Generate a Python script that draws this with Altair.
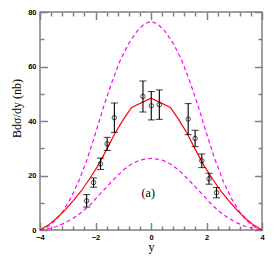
import altair as alt
import pandas as pd

# ---- data ----
upper_x = [-4, -3.8, -3.5, -3.2, -2.9, -2.6, -2.3, -2.0, -1.7, -1.4, -1.1, -0.8, -0.5, -0.25, 0,
           0.25, 0.5, 0.8, 1.1, 1.4, 1.7, 2.0, 2.3, 2.6, 2.9, 3.2, 3.5, 3.8, 4]
upper_y = [0, 0.6, 3, 6.5, 11.5, 18, 26, 35.5, 45.5, 54.5, 62.5, 68.5, 73, 75.5, 76.7,
           75.5, 73, 68.5, 62.5, 54.5, 45.5, 35.5, 26, 18, 11.5, 6.5, 3, 0.6, 0]

lower_x = [-4, -3.7, -3.4, -3.1, -2.8, -2.5, -2.2, -1.9, -1.6, -1.3, -1.0, -0.7, -0.4, 0,
           0.4, 0.7, 1.0, 1.3, 1.6, 1.9, 2.2, 2.5, 2.8, 3.1, 3.4, 3.7, 4]
lower_y = [0, 0.5, 1.3, 2.6, 4.3, 6.5, 9.2, 12.5, 15.8, 19, 22, 24.2, 25.7, 26.3,
           25.7, 24.2, 22, 19, 15.8, 12.5, 9.2, 6.5, 4.3, 2.6, 1.3, 0.5, 0]

red_x = [-4, -3.7, -3.4, -3.1, -2.8, -2.5, -2.2, -1.9, -1.6, -1.3, -1.0, -0.7, 0,
         0.7, 1.0, 1.3, 1.6, 1.9, 2.2, 2.5, 2.8, 3.1, 3.4, 3.7, 4]
red_y = [0, 1.8, 4.3, 7.3, 10.8, 14.5, 19, 23.8, 29.5, 35.5, 40.5, 45, 48.4,
         45, 40.5, 35.5, 29.5, 23.8, 19, 14.5, 10.8, 7.3, 4.3, 1.8, 0]

pt_x = [-2.32, -2.07, -1.82, -1.58, -1.32, -0.29, 0.01, 0.30, 1.34, 1.59, 1.83, 2.09, 2.36]
pt_y = [10.7, 17.4, 24.3, 31.6, 41.2, 49.0, 45.6, 46.0, 40.7, 33.6, 25.4, 18.8, 13.7]
pt_err = [2.3, 1.7, 2.1, 2.4, 5.4, 5.7, 5.2, 5.4, 5.7, 3.0, 2.5, 2.0, 1.9]

x_major = [-4, -2, 0, 2, 4]
x_minor = [-3.6, -3.2, -2.8, -2.4, -1.6, -1.2, -0.8, -0.4, 0.4, 0.8, 1.2, 1.6, 2.4, 2.8, 3.2, 3.6]
y_major = [0, 20, 40, 60, 80]
y_minor = [10, 30, 50, 70]

label_text = ["(a)"]
label_x = [-0.1]
label_y = [13.5]

# ---- tables ----
df_up = pd.DataFrame({"x": upper_x, "y": upper_y})
df_lo = pd.DataFrame({"x": lower_x, "y": lower_y})
df_red = pd.DataFrame({"x": red_x, "y": red_y})
df_pt = pd.DataFrame({"x": pt_x, "y": pt_y, "e": pt_err})
df_pt["lo"] = df_pt["y"] - df_pt["e"]
df_pt["hi"] = df_pt["y"] + df_pt["e"]
df_txt = pd.DataFrame({"x": label_x, "y": label_y, "t": label_text})

xs = alt.Scale(domain=[-4, 4], nice=False, zero=False)
ys = alt.Scale(domain=[0, 80], nice=False, zero=False)

GREY = "#808080"
MAJ = 7.5
MIN = 4


def ax(orient, values, size, labels=False, title=None, **kw):
    args = dict(orient=orient, values=values, tickSize=size, offset=-size,
                domain=False, grid=False, labels=labels, tickColor=GREY,
                tickWidth=1.5, ticks=True)
    if labels:
        args.update(labelFont="Liberation Sans", labelFontWeight="bold",
                    labelFontSize=7.5, labelColor="black", labelFlush=False,
                    labelOverlap=False, labelBound=False)
    if title is not None:
        args.update(title=title, titleFont="Liberation Serif", titleFontSize=12,
                    titleFontWeight="normal", titleColor="black")
    else:
        args.update(title=None)
    args.update(kw)
    return alt.Axis(**args)


upper = alt.Chart(df_up).mark_line(color="#ff00ff", strokeDash=[4, 3], strokeWidth=1.2).encode(
    x=alt.X("x:Q", scale=xs, axis=ax("bottom", x_major, MAJ, labels=True, title="y",
                                        labelPadding=3, titlePadding=1)),
    y=alt.Y("y:Q", scale=ys, axis=ax("left", y_major, MAJ, labels=True, title="Bdσ/dy (nb)",
                                        labelPadding=4, titlePadding=4, titleY=96)),
)
lower = alt.Chart(df_lo).mark_line(color="#ff00ff", strokeDash=[4, 3], strokeWidth=1.2).encode(
    x=alt.X("x:Q", scale=xs, axis=ax("bottom", x_minor, MIN)),
    y=alt.Y("y:Q", scale=ys, axis=ax("left", y_minor, MIN)),
)
red = alt.Chart(df_red).mark_line(color="#ff0000", strokeWidth=1.2).encode(
    x=alt.X("x:Q", scale=xs, axis=ax("top", x_major, MAJ)),
    y=alt.Y("y:Q", scale=ys, axis=ax("right", y_major, MAJ)),
)
pts = alt.Chart(df_pt).mark_point(shape="circle", size=20, color="black", strokeWidth=1,
                                  filled=False).encode(
    x=alt.X("x:Q", scale=xs, axis=ax("top", x_minor, MIN)),
    y=alt.Y("y:Q", scale=ys, axis=ax("right", y_minor, MIN)),
)
bars = alt.Chart(df_pt).mark_rule(color="black", strokeWidth=1.1).encode(
    x=alt.X("x:Q", scale=xs, axis=None),
    y=alt.Y("lo:Q", scale=ys, axis=None),
    y2="hi:Q",
)
cap_hi = alt.Chart(df_pt).mark_tick(orient="horizontal", size=7, thickness=1.1, color="black").encode(
    x=alt.X("x:Q", scale=xs, axis=None),
    y=alt.Y("hi:Q", scale=ys, axis=None),
)
cap_lo = alt.Chart(df_pt).mark_tick(orient="horizontal", size=7, thickness=1.1, color="black").encode(
    x=alt.X("x:Q", scale=xs, axis=None),
    y=alt.Y("lo:Q", scale=ys, axis=None),
)
txt = alt.Chart(df_txt).mark_text(font="Liberation Serif", fontSize=12, color="black").encode(
    x=alt.X("x:Q", scale=xs, axis=None),
    y=alt.Y("y:Q", scale=ys, axis=None),
    text="t:N",
)

chart = alt.layer(upper, lower, red, bars, cap_hi, cap_lo, pts, txt).resolve_axis(
    x="independent", y="independent"
).properties(
    width=222, height=218,
    autosize=alt.AutoSizeParams(type="none"),
    padding={"left": 32, "top": 4, "right": 4, "bottom": 24},
    background="white",
).configure_view(stroke=GREY, strokeWidth=1.5)

chart.save("out.html", embed_options={"renderer": "svg", "actions": False})
